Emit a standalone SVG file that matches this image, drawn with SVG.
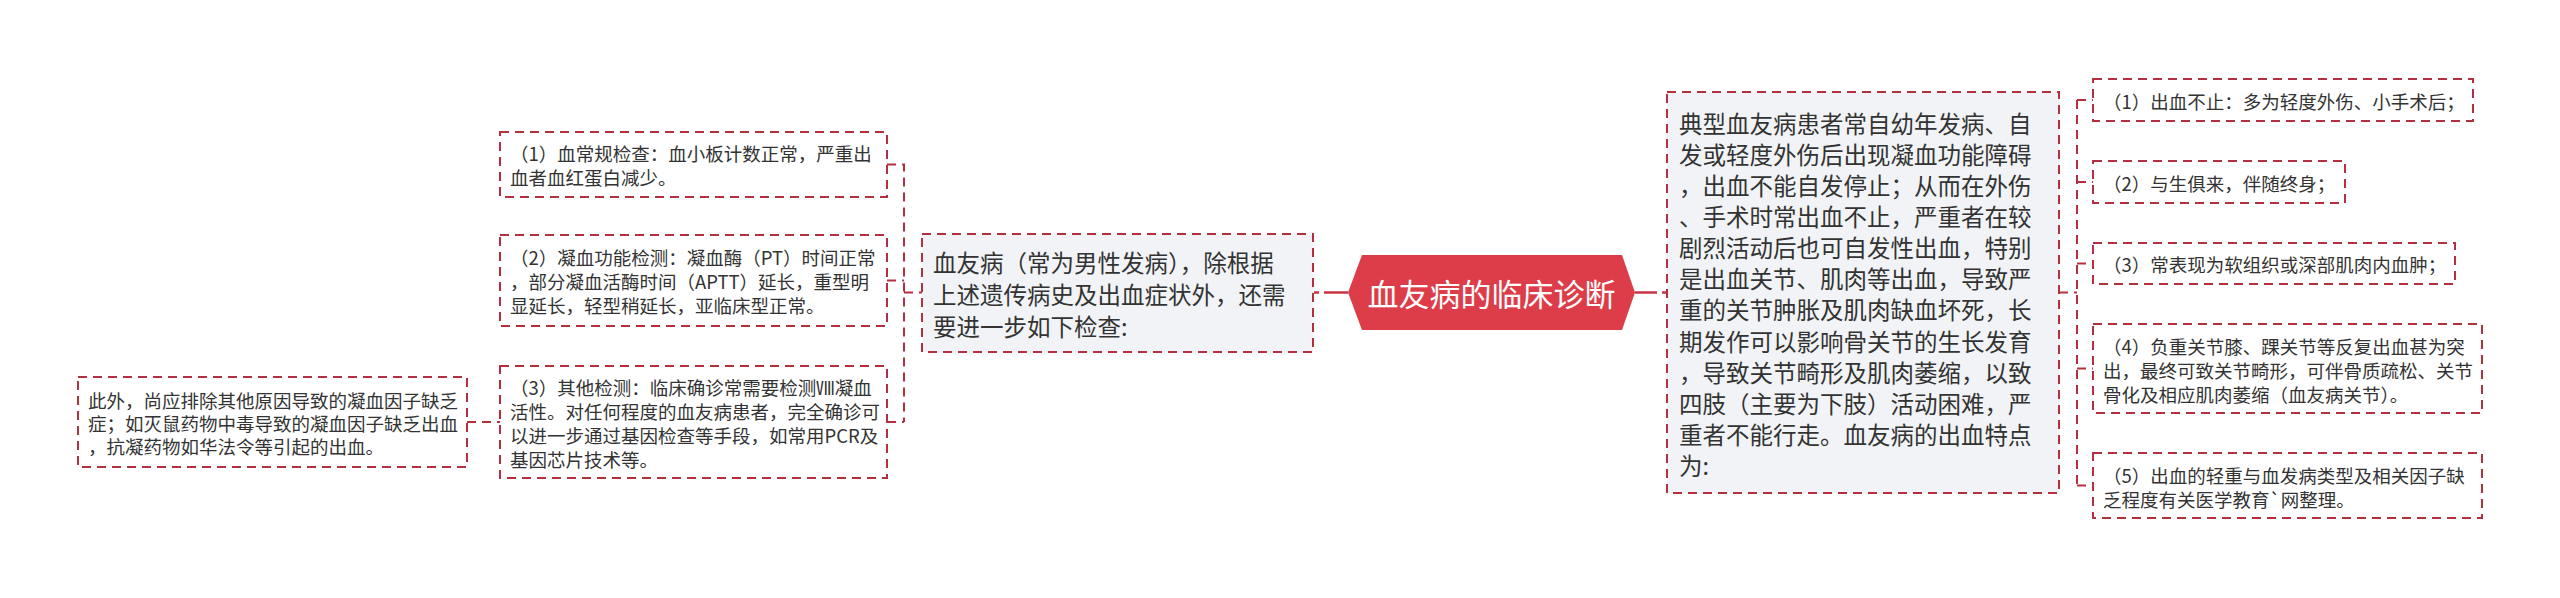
<svg xmlns="http://www.w3.org/2000/svg" width="2560" height="598" viewBox="0 0 2560 598">
<style>
.bg{fill:#ffffff}
.box{fill:#ffffff;stroke:#b5303f;stroke-width:2;stroke-dasharray:9 6}
.gbox{fill:#f1f3f6;stroke:#b5303f;stroke-width:2;stroke-dasharray:9 6}
.hex{fill:#dc3d49}
.conn{fill:none;stroke:#b5303f;stroke-width:2;stroke-dasharray:9 6}
.main{fill:none;stroke:#c73443;stroke-width:2.5;stroke-dasharray:5 5 60}
text{font-family:"Noto Sans CJK SC","Noto Sans",sans-serif;fill:#333333;dominant-baseline:central}
.s{font-size:18.5px}
.m{font-size:23.5px}
.t{font-size:31px;fill:#ffffff;text-anchor:middle}
</style>
<rect class="bg" x="0" y="0" width="2560" height="598"/>
<g id="connectors">
  <line class="main" x1="1314" y1="292.5" x2="1348" y2="292.5"/>
  <line class="main" x1="1667" y1="292.5" x2="1635" y2="292.5"/>
  <path class="conn" d="M887 164.5 H904 V422 M887 280.5 H904 M887 422 H904 M904 292.5 H922"/>
  <path class="conn" d="M467 422 H500"/>
  <path class="conn" d="M2059 292.5 H2077 M2077 100 V485.5 M2077 100 H2093 M2077 182 H2093 M2077 263.5 H2093 M2077 368.5 H2093 M2077 485.5 H2093"/>
</g>
<g id="root">
  <polygon class="hex" points="1348,292.5 1362,255 1622,255 1635,292.5 1622,330 1362,330"/>
  <text class="t" x="1491.5" y="292.5">血友病的临床诊断</text>
</g>
<g id="exam">
  <rect class="gbox" x="922" y="234" width="391" height="118"/>
  <text class="m" x="933" y="262">血友病（常为男性发病），除根据</text>
  <text class="m" x="933" y="294">上述遗传病史及出血症状外，还需</text>
  <text class="m" x="933" y="326">要进一步如下检查:</text>
</g>
<g id="exam1">
  <rect class="box" x="500" y="132" width="387" height="65"/>
  <text class="s" x="510" y="152.5">（1）血常规检查：血小板计数正常，严重出</text>
  <text class="s" x="510" y="176.5">血者血红蛋白减少。</text>
</g>
<g id="exam2">
  <rect class="box" x="500" y="235" width="387" height="91"/>
  <text class="s" x="510" y="257">（2）凝血功能检测：凝血酶（PT）时间正常</text>
  <text class="s" x="510" y="281">，部分凝血活酶时间（APTT）延长，重型明</text>
  <text class="s" x="510" y="305">显延长，轻型稍延长，亚临床型正常。</text>
</g>
<g id="exam3">
  <rect class="box" x="500" y="366" width="387" height="112"/>
  <text class="s" x="510" y="387">（3）其他检测：临床确诊常需要检测Ⅷ凝血</text>
  <text class="s" x="510" y="411">活性。对任何程度的血友病患者，完全确诊可</text>
  <text class="s" x="510" y="435">以进一步通过基因检查等手段，如常用PCR及</text>
  <text class="s" x="510" y="459">基因芯片技术等。</text>
</g>
<g id="exclude">
  <rect class="box" x="78" y="377" width="389" height="90"/>
  <text class="s" x="88" y="400">此外，尚应排除其他原因导致的凝血因子缺乏</text>
  <text class="s" x="88" y="423">症；如灭鼠药物中毒导致的凝血因子缺乏出血</text>
  <text class="s" x="88" y="446">，抗凝药物如华法令等引起的出血。</text>
</g>
<g id="typical">
  <rect class="gbox" x="1667" y="92" width="392" height="401"/>
  <text class="m" x="1679" y="122.5">典型血友病患者常自幼年发病、自</text>
  <text class="m" x="1679" y="153.6">发或轻度外伤后出现凝血功能障碍</text>
  <text class="m" x="1679" y="184.8">，出血不能自发停止；从而在外伤</text>
  <text class="m" x="1679" y="215.9">、手术时常出血不止，严重者在较</text>
  <text class="m" x="1679" y="247.1">剧烈活动后也可自发性出血，特别</text>
  <text class="m" x="1679" y="278.2">是出血关节、肌肉等出血，导致严</text>
  <text class="m" x="1679" y="309.4">重的关节肿胀及肌肉缺血坏死，长</text>
  <text class="m" x="1679" y="340.5">期发作可以影响骨关节的生长发育</text>
  <text class="m" x="1679" y="371.7">，导致关节畸形及肌肉萎缩，以致</text>
  <text class="m" x="1679" y="402.8">四肢（主要为下肢）活动困难，严</text>
  <text class="m" x="1679" y="434">重者不能行走。血友病的出血特点</text>
  <text class="m" x="1679" y="465">为:</text>
</g>
<g id="feat1">
  <rect class="box" x="2093" y="79" width="380" height="42"/>
  <text class="s" x="2103" y="101">（1）出血不止：多为轻度外伤、小手术后；</text>
</g>
<g id="feat2">
  <rect class="box" x="2093" y="161" width="252" height="42"/>
  <text class="s" x="2103" y="183">（2）与生俱来，伴随终身；</text>
</g>
<g id="feat3">
  <rect class="box" x="2093" y="243" width="362" height="41"/>
  <text class="s" x="2103" y="264">（3）常表现为软组织或深部肌肉内血肿；</text>
</g>
<g id="feat4">
  <rect class="box" x="2093" y="324" width="389" height="89"/>
  <text class="s" x="2103" y="346">（4）负重关节膝、踝关节等反复出血甚为突</text>
  <text class="s" x="2103" y="370">出，最终可致关节畸形，可伴骨质疏松、关节</text>
  <text class="s" x="2103" y="394">骨化及相应肌肉萎缩（血友病关节）。</text>
</g>
<g id="feat5">
  <rect class="box" x="2093" y="453" width="389" height="65"/>
  <text class="s" x="2103" y="475">（5）出血的轻重与血发病类型及相关因子缺</text>
  <text class="s" x="2103" y="499">乏程度有关医学教育`网整理。</text>
</g>
</svg>
